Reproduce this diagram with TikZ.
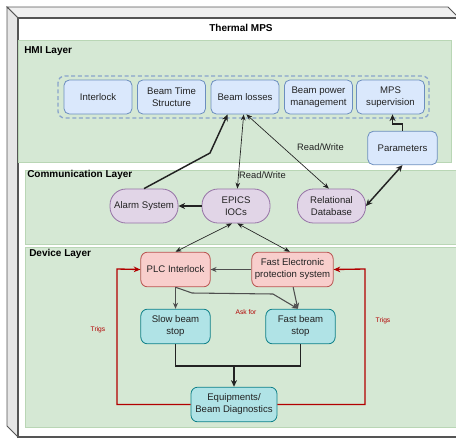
\documentclass[tikz,border=0pt]{standalone}
\usepackage{fontspec}
\setmainfont{Liberation Sans}
\usetikzlibrary{arrows.meta}
\definecolor{hmifill}{HTML}{DAE8FC}
\definecolor{hmiline}{HTML}{6C8EBF}
\definecolor{layfill}{HTML}{D5E8D4}
\definecolor{layline}{HTML}{B9D6B5}
\definecolor{purfill}{HTML}{E1D5E7}
\definecolor{purline}{HTML}{9673A6}
\definecolor{redfill}{HTML}{F8CECC}
\definecolor{redline}{HTML}{B85450}
\definecolor{cyanfill}{HTML}{B0E3E6}
\definecolor{cyanline}{HTML}{0E8088}
\definecolor{trig}{HTML}{B20000}
\definecolor{cubeline}{HTML}{555555}
\definecolor{cubeside}{HTML}{E6E6E6}
\definecolor{txt}{HTML}{222222}
\definecolor{arr}{HTML}{222222}
\tikzset{
  base/.style={inner sep=0pt, align=center, font=\fontsize{7.2}{9}\selectfont, text=txt, line width=0.6pt},
  hmibox/.style={base, draw=hmiline, fill=hmifill, rounded corners=4pt, minimum width=51pt, minimum height=25.5pt},
  purbox/.style={base, draw=purline, fill=purfill, rounded corners=12pt, minimum width=51pt, minimum height=25.5pt},
  redbox/.style={base, draw=redline, fill=redfill, rounded corners=5pt, minimum height=26pt},
  cyanbox/.style={base, draw=cyanline, fill=cyanfill, rounded corners=5pt, minimum height=26pt},
  layer/.style={draw=layline, fill=layfill, line width=0.5pt},
  laylabel/.style={font=\bfseries\fontsize{7.5}{9}\selectfont, anchor=west, inner sep=0pt, text=black},
  thinarr/.style={draw=arr, line width=0.5pt, -{Stealth[length=4.5pt,width=3.5pt]}},
  thinboth/.style={draw=arr, line width=0.5pt, {Stealth[length=4.5pt,width=3.5pt]}-{Stealth[length=4.5pt,width=3.5pt]}},
  thickarr/.style={draw=arr, line width=1.1pt, -{Stealth[length=5pt,width=4.5pt]}},
  thickboth/.style={draw=arr, line width=1.1pt, {Stealth[length=5pt,width=4.5pt]}-{Stealth[length=5pt,width=4.5pt]}},
  medarr/.style={draw=arr!80, line width=0.8pt, -{Stealth[length=4.5pt,width=3.8pt]}},
  trigarr/.style={draw=trig, line width=1pt, -{Stealth[length=5pt,width=4.2pt]}},
  redlab/.style={font=\fontsize{5}{6}\selectfont, text=trig, inner sep=0pt},
  rwlab/.style={font=\fontsize{7}{8}\selectfont, text=txt, inner sep=0pt}
}
\begin{document}
\begin{tikzpicture}[x=0.75pt,y=-0.75pt]
\useasboundingbox (0,0) rectangle (456,439);
\clip (0,0) rectangle (456,439);
% cube
\fill[white] (0,0) rectangle (456,439);
\draw[cubeline, fill=cubeside!60, line width=0.6pt] (7,7) -- (448,7) -- (459,18) -- (18,18) -- cycle;
\draw[cubeline, fill=cubeside, line width=0.6pt] (7,7) -- (18,18) -- (18,437) -- (7,426) -- cycle;
\draw[cubeline, fill=white, line width=0.8pt] (18,18) rectangle (462,437);
\node[font=\bfseries\fontsize{7.5}{9}\selectfont, inner sep=0pt] (title) at (241,28) {Thermal MPS};
% layers
\draw[layer] (18,40) rectangle (451,162);
\draw[layer] (25,170) rectangle (462,244);
\draw[layer] (25,247) rectangle (462,427);
\node[laylabel] (lhmi) at (24,51) {HMI Layer};
\node[laylabel] (lcom) at (27,174.5) {Communication Layer};
\node[laylabel] (ldev) at (29,254) {Device Layer};
% HMI group
\draw[hmiline!80, line width=1pt, dash pattern=on 3pt off 2pt, rounded corners=5pt] (58,76) rectangle (429,118);
\node[hmibox] (interlock) at (98,97) {Interlock};
\node[hmibox] (bts) at (171.5,97) {Beam Time\\Structure};
\node[hmibox] (losses) at (245,97) {Beam losses};
\node[hmibox] (bpm) at (318.5,97) {Beam power\\management};
\node[hmibox] (mps) at (390.5,97) {MPS\\supervision};
\node[hmibox, minimum width=52pt, minimum height=25pt] (param) at (402.5,148) {Parameters};
% communication
\node[purbox] (alarm) at (144,206) {Alarm System};
\node[purbox] (epics) at (236,206) {EPICS\\IOCs};
\node[purbox] (reldb) at (331.5,206) {Relational\\Database};
% device
\node[redbox, minimum width=52pt] (plc) at (175.5,269.5) {PLC Interlock};
\node[redbox, minimum width=61pt] (fep) at (292.5,269.5) {Fast Electronic\\protection system};
\node[cyanbox, minimum width=52pt] (slow) at (175.5,326.5) {Slow beam\\stop};
\node[cyanbox, minimum width=52pt] (fast) at (300.5,326.5) {Fast beam\\stop};
\node[cyanbox, minimum width=64.5pt] (equip) at (234,404.5) {Equipments/\\Beam Diagnostics};
% HMI/comm connectors
\coordinate (b1) at (210,153);
\draw[thickarr] (alarm.north) -- (b1) -- ([xshift=-13]losses.south);
\draw[thinboth] ([xshift=1]epics.north) -- ([xshift=-1]losses.south);
\draw[thinboth] ([xshift=-2]reldb.north) -- ([xshift=1]losses.south);
\node[rwlab] (rw1) at (320.5,147) {Read/Write};
\node[rwlab] (rw2) at (262.5,175) {Read/Write};
\draw[thickboth] (param.south) -- (reldb.east);
\draw[thickarr] (param.north) -- ++(0,-7) -| ([xshift=1.5]mps.south);
\draw[thickarr] (epics.west) -- (alarm.east);
\draw[thinboth] ([xshift=-3]epics.south) -- (plc.north);
\draw[thinboth] ([xshift=1]epics.south) -- ([xshift=-2]fep.north);
% device connectors
\draw[medarr] (fep.west) -- (plc.east);
\draw[medarr] (plc.south) -- (slow.north);
\draw[medarr] (plc.south) -- (192,293) -- (273,294) -- ([xshift=-2]fast.north);
\draw[medarr] ([xshift=0.5]fep.south) -- ([xshift=-2]fast.north);
\node[redlab] (ask) at (246,312) {Ask for};
\coordinate (jn) at (234,366);
\draw[draw=arr, line width=1.1pt] (slow.south) |- (jn) -| (fast.south);
\draw[thickarr] (jn) -- (equip.north);
\draw[trigarr] (equip.west) -| (117,269) -- (plc.west);
\draw[trigarr] (equip.east) -| (365,269) -- (fep.east);
\node[redlab] (trig1) at (98,330) {Trigs};
\node[redlab] (trig2) at (383,321) {Trigs};
\end{tikzpicture}
\end{document}
